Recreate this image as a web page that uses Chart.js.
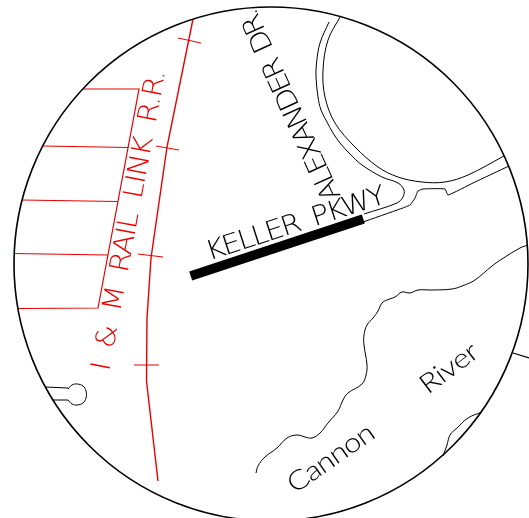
<!DOCTYPE html>
<html>
<head>
<meta charset="utf-8">
<title>Keller Pkwy</title>
<script src="https://cdn.jsdelivr.net/npm/chart.js@4"></script>
<style>
html, body { margin: 0; padding: 0; background: #fff; }
canvas { display: block; }
</style>
</head>
<body>
<canvas id="mapChart" width="529" height="518"></canvas>
<script>
// Map readings, in picture units
const viewCentre = [[271, 264]];
const railLine = [[193,19],[167,147],[151,258],[147,318],[146.5,381],[158,481]];
const railTick1 = [[178,38],[201,43]];
const railTick2 = [[156,146],[179,150]];
const railTick3 = [[138,254],[163,257]];
const railTick4 = [[134,365],[159,365]];
const lotEdge = [[83,89],[139,89],[98,308],[18,308.5]];
const lotLine1 = [[43,146],[128.5,147.5]];
const lotLine2 = [[22,200],[118,201.5]];
const lotLine3 = [[14,253.5],[108,255]];
const roadOuter = [[329,22],[320,43],[316.5,63],[316,77],[318,97],[321,110],[327,122],[333,133],[340,143],[350,154],[362,165],[382,177],[398,183],[404,190],[403,197],[397,203],[364,214]];
const roadInner = [[340,17],[328,40],[323,70],[325,97],[335,123],[355,147],[378,167],[398,177],[422,182],[445,182],[468,175],[504,156]];
const roadLower = [[363,222],[400,209],[410,205],[415,198],[418,191],[423,189],[445,189],[448,195],[473,183],[509,166]];
const keyholeTop = [[45,387],[68,388]];
const keyholeBottom = [[52,400],[68,400]];
const keyholeBulb = [[68,389],[72,385],[77,384],[83,386],[86,391],[86,398],[83,403],[77,405],[72,404],[68,400]];
const parkwayBar = [[190.7,276],[363.3,219]];
const parkwaySeam = [[218,270],[360,215]];
const river = [[528,245],[520,248],[502,259],[492,266],[475,280],[462,286],[452,289],[432,290],[418,290],[410,293],[402,292],[395,297],[387,300],[382,303],[378,311],[373,318],[367,325],[364,335],[364,345],[367,365],[366,375],[362,384],[348,393],[343,400],[338,411],[328,423],[320,433],[312,438],[305,437],[297,435],[287,438],[277,448],[265,457],[258,466],[256,473]];
const pond = [[443,456],[447,445],[450,435],[457,428],[468,418],[482,412]];
const edgeStub = [[513,353],[529,358]];

const RED = '#e60000';
const BLACK = '#000';

function pts(list) {
    return list.map(p => ({ x: p[0], y: p[1] }));
}

function line(list, color, width, tension) {
    return {
        data: pts(list),
        showLine: true,
        borderColor: color,
        borderWidth: width,
        tension: tension || 0,
        pointRadius: 0,
        borderCapStyle: 'butt'
    };
}

// Rotated lettering, widened and spaced along its baseline to the length in the drawing
const mapText = {
    id: 'mapText',
    afterDatasetsDraw(chart, args, opts) {
        const ctx = chart.ctx;
        opts.items.forEach(t => {
            ctx.save();
            ctx.translate(chart.scales.x.getPixelForValue(t.x), chart.scales.y.getPixelForValue(t.y));
            ctx.rotate(t.angle * Math.PI / 180);
            ctx.scale(t.widen, 1);
            ctx.font = t.font;
            ctx.fillStyle = t.color;
            ctx.textBaseline = 'alphabetic';
            ctx.wordSpacing = t.gap + 'px';
            ctx.letterSpacing = '0px';
            const w = ctx.measureText(t.text).width;
            ctx.letterSpacing = ((t.length / t.widen - w) / (t.text.length - 1)) + 'px';
            ctx.fillText(t.text, 0, 0);
            ctx.restore();
        });
    }
};

const capsFont = '200 27px "DejaVu Sans"';
const riverFont = '300 27px Lato';

new Chart(document.getElementById('mapChart'), {
    type: 'scatter',
    data: {
        datasets: [
            {
                data: pts(viewCentre),
                showLine: false,
                pointRadius: 257,
                pointBackgroundColor: 'transparent',
                pointBorderColor: BLACK,
                pointBorderWidth: 1.6
            },
            line(railLine, RED, 1.4),
            line(railTick1, RED, 1),
            line(railTick2, RED, 1),
            line(railTick3, RED, 1),
            line(railTick4, RED, 1),
            line(lotEdge, RED, 1.2),
            line(lotLine1, RED, 1.2),
            line(lotLine2, RED, 1.2),
            line(lotLine3, RED, 1.2),
            line(roadOuter, BLACK, 1, 0.35),
            line(roadInner, BLACK, 1, 0.35),
            line(roadLower, BLACK, 1, 0.15),
            line(keyholeTop, BLACK, 1),
            line(keyholeBottom, BLACK, 1),
            line(keyholeBulb, BLACK, 1, 0.4),
            line(parkwayBar, BLACK, 9.5),
            line(parkwaySeam, '#bbb', 0.5),
            line(river, BLACK, 1, 0.4),
            line(pond, BLACK, 1, 0.4),
            line(edgeStub, BLACK, 1.2)
        ]
    },
    options: {
        responsive: false,
        animation: false,
        events: [],
        layout: { autoPadding: false, padding: 0 },
        scales: {
            x: { type: 'linear', min: 0, max: 529, display: false },
            y: { type: 'linear', min: 0, max: 518, reverse: true, display: false }
        },
        plugins: {
            legend: { display: false },
            tooltip: { enabled: false },
            mapText: {
                items: [
                    { text: 'I & M RAIL LINK R.R.', x: 109, y: 372, angle: -79.4, length: 306, widen: 1.1, gap: 7, font: capsFont, color: RED },
                    { text: 'KELLER PKWY', x: 209, y: 260.5, angle: -18, length: 188, widen: 1.1, gap: 6, font: capsFont, color: BLACK },
                    { text: 'ALEXANDER DR.', x: 341, y: 196, angle: -114.5, length: 208, widen: 1.1, gap: 4, font: capsFont, color: BLACK },
                    { text: 'Cannon', x: 295, y: 494, angle: -35, length: 100, widen: 1.15, gap: 0, font: riverFont, color: BLACK },
                    { text: 'River', x: 428, y: 395, angle: -37, length: 66, widen: 1.15, gap: 0, font: riverFont, color: BLACK }
                ]
            }
        }
    },
    plugins: [mapText]
});
</script>
</body>
</html>
